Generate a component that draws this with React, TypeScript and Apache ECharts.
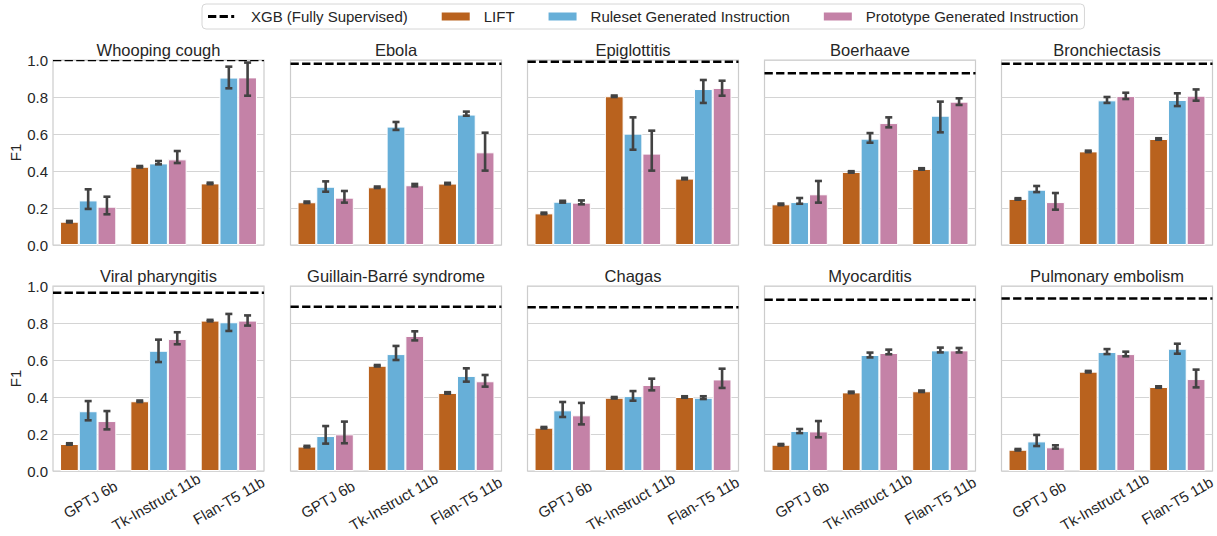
import React, { useEffect, useRef } from 'react';
import * as echarts from 'echarts';

const diseases = [
  'Whooping cough', 'Ebola', 'Epiglottitis', 'Boerhaave', 'Bronchiectasis',
  'Viral pharyngitis', 'Guillain-Barré syndrome', 'Chagas', 'Myocarditis', 'Pulmonary embolism',
];
const models = ['GPTJ 6b', 'Tk-Instruct 11b', 'Flan-T5 11b'];
const seriesNames = ['XGB (Fully Supervised)', 'LIFT', 'Ruleset Generated Instruction', 'Prototype Generated Instruction'];
const yTickLabels = ['0.0', '0.2', '0.4', '0.6', '0.8', '1.0'];

const xgbF1 = [1.0, 0.98, 0.991, 0.928, 0.98, 0.964, 0.888, 0.885, 0.926, 0.932];

const liftF1 = [
  [0.126, 0.423, 0.333], [0.231, 0.312, 0.332], [0.171, 0.804, 0.359], [0.220, 0.395, 0.411], [0.249, 0.506, 0.573],
  [0.146, 0.377, 0.813], [0.132, 0.569, 0.422], [0.234, 0.396, 0.400], [0.142, 0.425, 0.431], [0.115, 0.537, 0.454],
];
const liftLo = [
  [0.122, 0.419, 0.329], [0.227, 0.308, 0.328], [0.167, 0.800, 0.355], [0.216, 0.391, 0.407], [0.245, 0.502, 0.569],
  [0.142, 0.373, 0.809], [0.128, 0.565, 0.418], [0.230, 0.392, 0.396], [0.138, 0.421, 0.427], [0.111, 0.533, 0.450],
];
const liftHi = [
  [0.130, 0.427, 0.337], [0.235, 0.316, 0.336], [0.175, 0.808, 0.363], [0.224, 0.399, 0.415], [0.253, 0.510, 0.577],
  [0.150, 0.381, 0.817], [0.136, 0.573, 0.426], [0.238, 0.400, 0.404], [0.146, 0.429, 0.435], [0.119, 0.541, 0.458],
];

const rulesetF1 = [
  [0.241, 0.441, 0.905], [0.315, 0.640, 0.705], [0.234, 0.602, 0.843], [0.232, 0.575, 0.699], [0.299, 0.782, 0.784],
  [0.323, 0.650, 0.804], [0.189, 0.632, 0.514], [0.328, 0.405, 0.396], [0.216, 0.627, 0.652], [0.160, 0.643, 0.661],
];
const rulesetLo = [
  [0.195, 0.436, 0.847], [0.288, 0.622, 0.699], [0.229, 0.515, 0.768], [0.223, 0.553, 0.609], [0.286, 0.768, 0.751],
  [0.274, 0.589, 0.757], [0.148, 0.600, 0.483], [0.292, 0.380, 0.389], [0.205, 0.614, 0.641], [0.135, 0.632, 0.634],
];
const rulesetHi = [
  [0.301, 0.454, 0.964], [0.344, 0.665, 0.721], [0.239, 0.690, 0.892], [0.254, 0.605, 0.775], [0.319, 0.800, 0.820],
  [0.378, 0.710, 0.849], [0.243, 0.676, 0.555], [0.373, 0.432, 0.404], [0.227, 0.640, 0.667], [0.195, 0.659, 0.688],
];

const protoF1 = [
  [0.207, 0.463, 0.906], [0.256, 0.323, 0.501], [0.229, 0.494, 0.849], [0.274, 0.659, 0.775], [0.232, 0.805, 0.807],
  [0.270, 0.714, 0.813], [0.198, 0.730, 0.485], [0.301, 0.465, 0.495], [0.214, 0.638, 0.652], [0.128, 0.632, 0.497],
];
const protoLo = [
  [0.166, 0.443, 0.807], [0.229, 0.317, 0.402], [0.220, 0.402, 0.807], [0.229, 0.636, 0.757], [0.191, 0.789, 0.780],
  [0.225, 0.685, 0.786], [0.150, 0.706, 0.456], [0.252, 0.436, 0.449], [0.182, 0.631, 0.641], [0.121, 0.620, 0.452],
];
const protoHi = [
  [0.261, 0.508, 0.986], [0.292, 0.330, 0.607], [0.241, 0.618, 0.888], [0.346, 0.690, 0.793], [0.281, 0.823, 0.841],
  [0.324, 0.750, 0.841], [0.267, 0.755, 0.519], [0.368, 0.499, 0.553], [0.270, 0.656, 0.665], [0.139, 0.645, 0.548],
];

const FONT = '"Liberation Sans", Arial, Helvetica, sans-serif';
const TEXT = '#262626';
const COLORS = ['#B9621E', '#67AFD8', '#C482A7'];
const GRID_LEFTS = [53, 290.5, 527.5, 764.5, 1001.5];
const GRID_TOPS = [60, 286];
const GW = 211;
const GH = 185;
const LABEL_PADS = [[0, 0, 8.7, 5], [9.5, 5.5, 0, 0], [0, 0, 0, 0]];
const DASH_ICON = 'path://M0,0L0.01,0Z M29.99,10L30,10Z M0,3.6h8.3v2.8h-8.3z M11.6,3.6h8.3v2.8h-8.3z M23.2,3.6h3v2.8h-3z';

function buildOption() {
  const grids: any[] = [];
  const xAxes: any[] = [];
  const yAxes: any[] = [];
  const titles: any[] = [];
  const series: any[] = [];
  const vals = [liftF1, rulesetF1, protoF1];
  const los = [liftLo, rulesetLo, protoLo];
  const his = [liftHi, rulesetHi, protoHi];

  diseases.forEach((d, i) => {
    const row = Math.floor(i / 5);
    const col = i % 5;
    const left = GRID_LEFTS[col];
    const top = GRID_TOPS[row];
    grids.push({
      left, top, width: GW, height: GH, show: true, containLabel: false, outerBoundsMode: 'none',
      borderColor: '#cccccc', borderWidth: 1.2, backgroundColor: '#ffffff',
    });
    titles.push({
      text: d, left: left + GW / 2, top: top - 19, textAlign: 'center', padding: 0,
      textStyle: { fontSize: 16.5, fontWeight: 'normal', color: TEXT, fontFamily: FONT },
    });
    xAxes.push({
      type: 'category', gridIndex: i,
      data: row === 1
        ? models.map((m, k) => ({
          value: m,
          textStyle: { align: 'center', verticalAlign: 'middle', padding: LABEL_PADS[k] },
        }))
        : models,
      axisLine: { show: false }, axisTick: { show: false }, splitLine: { show: false },
      axisLabel: {
        show: row === 1, interval: 0, rotate: 30, align: 'center', verticalAlign: 'middle',
        margin: 29.5, fontSize: 15, color: TEXT, fontFamily: FONT, hideOverlap: false,
      },
    });
    yAxes.push({
      type: 'value', gridIndex: i, min: 0, max: 1, interval: 0.2,
      axisLine: { show: false }, axisTick: { show: false },
      splitLine: { show: true, lineStyle: { color: '#d4d4d4', width: 1.2 } },
      axisLabel: {
        show: col === 0, fontSize: 15, color: TEXT, fontFamily: FONT, margin: 5,
        formatter: (v: number) => yTickLabels[Math.round(v / 0.2)],
      },
      name: col === 0 ? 'F1' : '', nameLocation: 'middle', nameGap: 28, nameRotate: 90,
      nameTextStyle: { fontSize: 15, color: TEXT, fontFamily: FONT },
    });

    for (let s = 0; s < 3; s++) {
      series.push({
        type: 'bar', name: seriesNames[s + 1], xAxisIndex: i, yAxisIndex: i,
        data: vals[s][i], barGap: '0%', barCategoryGap: '20%', z: 2,
        itemStyle: { color: COLORS[s], borderColor: '#ffffff', borderWidth: 1 },
      });
    }

    const errData: number[][] = [];
    for (let c = 0; c < 3; c++) {
      for (let s = 0; s < 3; s++) errData.push([c, s, los[s][i][c], his[s][i][c]]);
    }
    series.push({
      type: 'custom', name: 'errorbars', xAxisIndex: i, yAxisIndex: i, z: 5,
      data: errData, encode: { x: 0, y: [2, 3] },
      renderItem: (params: any, api: any) => {
        const c = api.value(0);
        const s = api.value(1);
        const bw = api.size([1, 0])[0];
        const barW = (bw * 0.8) / 3;
        const x = api.coord([c, 0])[0] + (s - 1) * barW;
        const yLo = api.coord([c, api.value(2)])[1];
        const yHi = api.coord([c, api.value(3)])[1];
        const cap = bw * 0.05;
        const st = { stroke: '#424242', lineWidth: 2.6, fill: null };
        return {
          type: 'group',
          children: [
            { type: 'line', shape: { x1: x, y1: yLo, x2: x, y2: yHi }, style: st },
            { type: 'line', shape: { x1: x - cap, y1: yLo, x2: x + cap, y2: yLo }, style: st },
            { type: 'line', shape: { x1: x - cap, y1: yHi, x2: x + cap, y2: yHi }, style: st },
          ],
        };
      },
    });

    series.push({
      type: 'custom', name: seriesNames[0], xAxisIndex: i, yAxisIndex: i, z: 6, clip: true,
      itemStyle: { color: '#000000' },
      data: [[0, xgbF1[i]]], encode: { x: 0, y: 1 },
      renderItem: (params: any, api: any) => {
        const cs = params.coordSys;
        const y = api.coord([0, api.value(1)])[1];
        return {
          type: 'line',
          shape: { x1: cs.x, y1: y, x2: cs.x + cs.width, y2: y },
          style: { stroke: '#000000', lineWidth: 2.5, lineDash: [8.3, 3.3], fill: null },
        };
      },
    });
  });

  return {
    animation: false,
    backgroundColor: '#ffffff',
    title: titles,
    grid: grids,
    xAxis: xAxes,
    yAxis: yAxes,
    legend: {
      left: 202, top: 4, orient: 'horizontal', selectedMode: false,
      itemWidth: 30, itemHeight: 10, itemGap: 32, padding: [5, 6, 5, 6],
      backgroundColor: '#ffffff', borderColor: '#d6d6d6', borderWidth: 1, borderRadius: 4,
      textStyle: { fontSize: 15, color: TEXT, fontFamily: FONT, padding: [0, 0, 0, 8] },
      data: [
        { name: seriesNames[0], icon: DASH_ICON, itemStyle: { color: '#000000' } },
        { name: seriesNames[1], icon: 'rect' },
        { name: seriesNames[2], icon: 'rect' },
        { name: seriesNames[3], icon: 'rect' },
      ],
    },
    series,
  };
}

export default function App() {
  const ref = useRef<HTMLDivElement>(null);
  useEffect(() => {
    if (!ref.current) return;
    const chart = echarts.init(ref.current, null, { renderer: 'svg' });
    chart.setOption(buildOption());
    return () => chart.dispose();
  }, []);
  return (
    <div
      ref={ref}
      style={{ position: 'fixed', left: 0, top: 0, width: 1217, height: 536, background: '#ffffff' }}
    />
  );
}
